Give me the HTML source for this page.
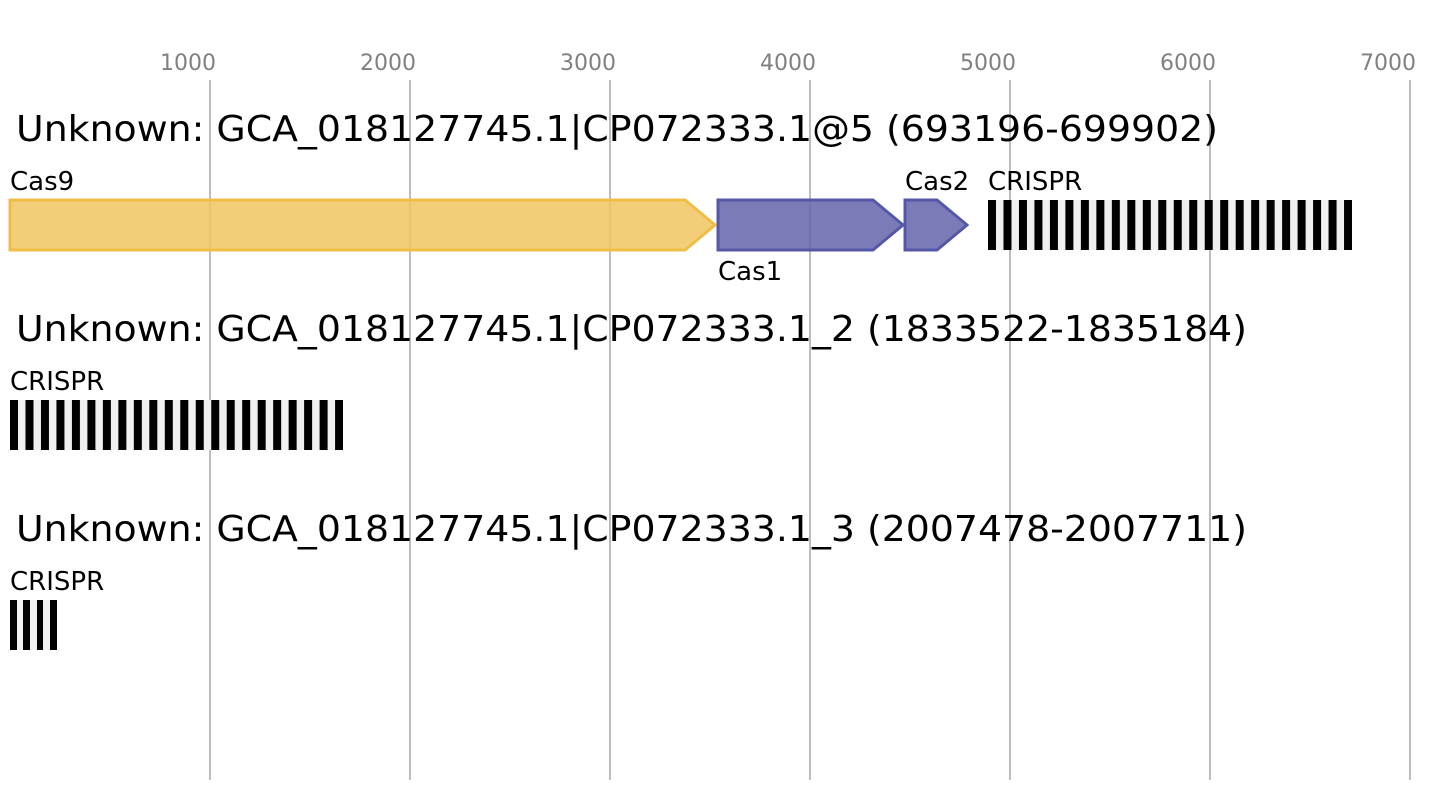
<!DOCTYPE html>
<html><head><meta charset="utf-8"><style>
html,body{margin:0;padding:0;background:#fff;}
svg{display:block;}
text{font-family:"DejaVu Sans","Liberation Sans",sans-serif;}
</style></head><body>
<svg width="1441" height="800" xmlns="http://www.w3.org/2000/svg">
<g stroke="#bdbdbd" stroke-width="2">
<line x1="210" y1="80" x2="210" y2="780"/><line x1="410" y1="80" x2="410" y2="780"/>
<line x1="610" y1="80" x2="610" y2="780"/><line x1="810" y1="80" x2="810" y2="780"/>
<line x1="1010" y1="80" x2="1010" y2="780"/><line x1="1210" y1="80" x2="1210" y2="780"/>
<line x1="1410" y1="80" x2="1410" y2="780"/>
</g>
<g fill="#808080" font-size="22" text-anchor="middle">
<text x="188" y="70">1000</text><text x="388" y="70">2000</text><text x="588" y="70">3000</text>
<text x="788" y="70">4000</text><text x="988" y="70">5000</text><text x="1188" y="70">6000</text>
<text x="1388" y="70">7000</text>
</g>
<g font-size="36" fill="#000">
<text x="16" y="141" textLength="1202" lengthAdjust="spacingAndGlyphs">Unknown: GCA_018127745.1|CP072333.1@5 (693196-699902)</text>
<text x="16" y="341" textLength="1231" lengthAdjust="spacingAndGlyphs">Unknown: GCA_018127745.1|CP072333.1_2 (1833522-1835184)</text>
<text x="16" y="541" textLength="1231" lengthAdjust="spacingAndGlyphs">Unknown: GCA_018127745.1|CP072333.1_3 (2007478-2007711)</text>
</g>
<g font-size="26" fill="#000">
<text x="10" y="190">Cas9</text><text x="718" y="280">Cas1</text><text x="905" y="190">Cas2</text>
<text x="988" y="190">CRISPR</text><text x="10" y="390">CRISPR</text><text x="10" y="590">CRISPR</text>
</g>
<polygon points="10,200 685,200 715,225 685,250 10,250" fill="#f0c661" fill-opacity="0.85" stroke="#f0bd45" stroke-width="3"/>
<polygon points="718,200 873,200 903,225 873,250 718,250" fill="#6464ab" fill-opacity="0.85" stroke="#5558a8" stroke-width="3"/>
<polygon points="905,200 937,200 967,225 937,250 905,250" fill="#6464ab" fill-opacity="0.85" stroke="#5558a8" stroke-width="3"/>
<defs>
<pattern id="st" x="988" y="0" width="15.48" height="10" patternUnits="userSpaceOnUse"><rect x="0" y="0" width="8" height="10" fill="#000"/></pattern>
<pattern id="st2" x="10" y="0" width="15.48" height="10" patternUnits="userSpaceOnUse"><rect x="0" y="0" width="8" height="10" fill="#000"/></pattern>
</defs>
<rect x="988" y="200" width="364" height="50" fill="#f0f0f0"/>
<rect x="988" y="200" width="364" height="50" fill="url(#st)"/>
<rect x="10" y="400" width="333" height="50" fill="#f0f0f0"/>
<rect x="10" y="400" width="333" height="50" fill="url(#st2)"/>
<rect x="10" y="600" width="47" height="50" fill="#f0f0f0"/>
<rect x="10" y="600" width="7" height="50" fill="#000"/>
<rect x="23" y="600" width="7" height="50" fill="#000"/>
<rect x="37" y="600" width="6" height="50" fill="#000"/>
<rect x="50" y="600" width="7" height="50" fill="#000"/>
</svg>
</body></html>
